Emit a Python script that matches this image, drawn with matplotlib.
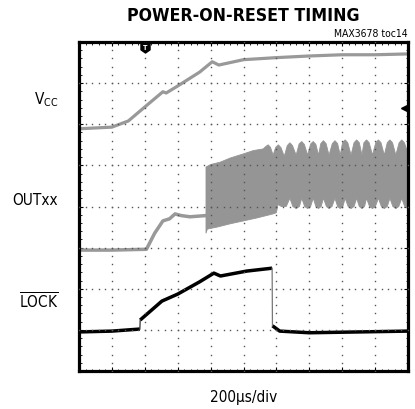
import numpy as np
import matplotlib.pyplot as plt
from matplotlib.ticker import MultipleLocator

# scope screen: 10 x 8 divisions, 200us/div
vcc_t = [0.0, 1.0, 1.5, 2.0, 2.55, 2.65, 3.0, 3.67, 4.05, 4.25, 5.0, 6.0, 7.0, 8.0, 9.0, 10.0]
vcc_v = [5.89, 5.93, 6.08, 6.42, 6.79, 6.76, 6.93, 7.27, 7.52, 7.44, 7.57, 7.62, 7.66, 7.69, 7.69, 7.71]

out_t = [0.0, 1.0, 2.05, 2.3, 2.55, 2.75, 2.92, 3.1, 3.37, 3.87]
out_v = [2.94, 2.94, 2.96, 3.35, 3.65, 3.70, 3.82, 3.78, 3.75, 3.78]

# envelope of the output burst after the PLL starts
burst_top_t = [3.86, 4.0, 4.3, 4.6, 5.0, 5.3, 5.6,
               5.68, 5.75, 5.82, 5.9, 5.98, 6.06, 6.14, 6.24,
               6.33, 6.41, 6.49, 6.6, 6.69, 6.77, 6.85, 6.95,
               7.04, 7.12, 7.2, 7.28, 7.35, 7.43, 7.51, 7.6,
               7.7, 7.78, 7.86, 7.94, 8.01, 8.09, 8.17, 8.27,
               8.36, 8.44, 8.52, 8.6, 8.66, 8.74, 8.82, 8.92,
               9.02, 9.1, 9.18, 9.28, 9.37, 9.45, 9.53, 9.63,
               9.73, 9.81, 9.89, 10.0]
burst_top = [4.96, 5.02, 5.08, 5.18, 5.28, 5.36, 5.40,
             5.46, 5.50, 5.44, 5.25, 5.44, 5.50, 5.43, 5.22,
             5.48, 5.55, 5.48, 5.25, 5.52, 5.58, 5.51, 5.25,
             5.52, 5.58, 5.51, 5.25, 5.53, 5.60, 5.53, 5.25,
             5.53, 5.60, 5.53, 5.25, 5.55, 5.62, 5.55, 5.25,
             5.55, 5.62, 5.55, 5.25, 5.55, 5.62, 5.55, 5.25,
             5.55, 5.62, 5.55, 5.25, 5.55, 5.62, 5.55, 5.25,
             5.55, 5.62, 5.55, 5.30]
burst_bot_t = [3.86, 3.9, 4.2, 4.6, 5.0, 5.4, 5.9, 6.0, 6.05, 6.15, 6.3,
               6.41, 6.5, 6.6, 6.7, 6.77, 6.86, 6.95, 7.04,
               7.12, 7.2, 7.28, 7.36, 7.43, 7.52, 7.6, 7.69,
               7.78, 7.86, 7.94, 8.02, 8.09, 8.18, 8.27, 8.36,
               8.44, 8.52, 8.6, 8.68, 8.74, 8.83, 8.92, 9.01,
               9.1, 9.19, 9.28, 9.37, 9.45, 9.54, 9.63, 9.72,
               9.81, 9.9, 10.0]
burst_bot = [3.35, 3.45, 3.50, 3.58, 3.65, 3.72, 3.82, 3.85, 4.05, 4.0, 4.0,
             4.20, 4.0, 3.95, 4.0, 4.20, 4.0, 3.95, 4.0,
             4.20, 4.0, 3.95, 4.0, 4.20, 4.0, 3.95, 4.0,
             4.20, 4.0, 3.95, 4.0, 4.20, 4.0, 3.95, 4.0,
             4.20, 4.0, 3.95, 4.0, 4.20, 4.0, 3.95, 4.0,
             4.20, 4.0, 3.95, 4.0, 4.20, 4.0, 3.95, 4.0,
             4.20, 4.0, 3.95]

lock_t = [0.0, 1.0, 1.85, 1.86, 2.52, 3.0, 3.67, 4.1, 4.3, 5.1, 5.87, 5.88, 6.1, 7.0, 8.5, 10.0]
lock_v = [0.95, 0.97, 1.02, 1.24, 1.70, 1.87, 2.17, 2.38, 2.31, 2.43, 2.50, 1.10, 0.97, 0.93, 0.95, 0.97]

trace_labels = ["V$_{\\mathrm{CC}}$", "OUTxx", "$\\overline{\\mathrm{LOCK}}$"]
label_y = [6.62, 4.18, 1.70]

trigger_t = 2.0
trigger_level = 6.39


def main() -> None:
    plt.rcParams.update(
        {
            "font.family": ["DejaVu Sans"],
            "font.stretch": "condensed",
            "mathtext.fontset": "custom",
            "mathtext.rm": "DejaVu Sans:stretch=condensed",
            "mathtext.it": "DejaVu Sans:stretch=condensed",
        }
    )

    fig = plt.figure(figsize=(4.15, 4.10), dpi=100)
    ax = fig.add_axes([79 / 415, 38 / 410, 329 / 415, 329 / 410])
    ax.set_xlim(0, 10)
    ax.set_ylim(0, 8)

    gray = "#999999"
    ax.plot(vcc_t, vcc_v, color=gray, lw=2.3, solid_joinstyle="round", zorder=2)
    ax.plot(out_t, out_v, color=gray, lw=2.5, solid_joinstyle="round", zorder=2)
    ax.fill(burst_top_t + burst_bot_t[::-1], burst_top + burst_bot[::-1],
            color="#959595", lw=0.6, zorder=2)
    # LOCK: thick flat parts, thin vertical edges
    ax.plot(lock_t[:3], lock_v[:3], color="black", lw=2.5, solid_capstyle="butt", zorder=2)
    ax.plot(lock_t[3:11], lock_v[3:11], color="black", lw=2.5, solid_capstyle="butt", zorder=2)
    ax.plot(lock_t[11:], lock_v[11:], color="black", lw=2.5, solid_capstyle="butt", zorder=2)
    ax.plot(lock_t[2:4], lock_v[2:4], color="#333333", lw=0.9, zorder=2)
    ax.plot(lock_t[10:12], lock_v[10:12], color="#777777", lw=0.9, zorder=2)

    # dotted graticule
    dots_x = np.arange(0, 10.01, 0.2)
    dots_y = np.arange(0, 8.01, 0.2)
    for k in range(1, 10):
        ax.plot(np.full(dots_y.size, k), dots_y, ls="none", marker="s", ms=1.0,
                mew=0, color="#555555", zorder=3)
    for k in range(1, 8):
        ax.plot(dots_x, np.full(dots_x.size, k), ls="none", marker="s", ms=1.0,
                mew=0, color="#555555", zorder=3)

    ax.xaxis.set_major_locator(MultipleLocator(1))
    ax.yaxis.set_major_locator(MultipleLocator(1))
    ax.xaxis.set_minor_locator(MultipleLocator(0.2))
    ax.yaxis.set_minor_locator(MultipleLocator(0.2))
    ax.tick_params(which="both", direction="in", top=True, right=True,
                   labelbottom=False, labelleft=False)
    ax.tick_params(which="major", length=3, width=0.8)
    ax.tick_params(which="minor", length=1.8, width=0.6)
    for sp in ax.spines.values():
        sp.set_linewidth(2.3)

    # trigger marks
    shield = [(-1, 1), (1, 1), (1, -0.3), (0, -1), (-1, -0.3), (-1, 1)]
    ax.plot([trigger_t, trigger_t], [8.0, 7.9], color="black", lw=1, zorder=4)
    ax.plot(trigger_t, 7.86, marker=shield, ms=6.5, color="black", zorder=4, clip_on=False)
    ax.text(trigger_t, 7.87, "T", color="white", fontsize=5, fontweight="bold",
            ha="center", va="center", zorder=5)
    ax.plot(9.87, trigger_level, marker="<", ms=4.5, color="black", zorder=4)

    for lab, y in zip(trace_labels, label_y):
        ax.text(-0.64, y, lab, fontsize=11, ha="right", va="center", clip_on=False)

    fig.text(243.5 / 415, 1 - 16 / 410, "POWER-ON-RESET TIMING", fontsize=12.7,
             fontweight="bold", ha="center", va="center")
    fig.text(408 / 415, 1 - 37 / 410, "MAX3678 toc14", fontsize=7.5,
             ha="right", va="baseline")
    fig.text(243.5 / 415, 1 - 398 / 410, "200\u00b5s/div", fontsize=11,
             ha="center", va="center")

    fig.savefig("out.png", dpi=100)


if __name__ == "__main__":
    main()
